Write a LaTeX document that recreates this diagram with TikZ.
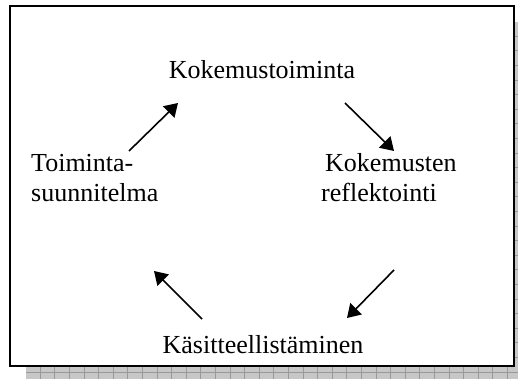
\documentclass[tikz,border=0pt]{standalone}
\usepackage{fontspec}
\setmainfont{Liberation Serif}
\usetikzlibrary{arrows.meta}
\begin{document}
\begin{tikzpicture}[x=1pt,y=1pt,
  label/.style={inner sep=0pt,font=\fontsize{26}{30}\selectfont},
  cyclearrow/.style={line width=1.6pt,-{Triangle[length=13pt,width=16pt]}},
  frame/.style={draw=black,line width=2pt,fill=white},
  shadowfill/.style={fill=black!22},
  shadowgrid/.style={draw=black!40,line width=0.6pt}]
\useasboundingbox (0,0) rectangle (518,379);
% drop shadow with a fine grid, clipped to the page
\begin{scope}
  \clip (0,0) rectangle (518,379);
  \fill[shadowfill] (26,-4) rectangle (530,357);
  \foreach \gx in {40,54.6,...,530} \draw[shadowgrid] (\gx,-4) -- (\gx,357);
  \foreach \gy in {7,21.6,...,357} \draw[shadowgrid] (26,\gy) -- (530,\gy);
\end{scope}
% frame
\draw[frame] (10,13) rectangle (514,373);
% stages of the cycle
\node[label,anchor=base] (top) at (262,300) {Kokemustoiminta};
\node[label,anchor=base west,align=left] (left) at (31,177) {Toiminta-\\suunnitelma};
\node[label,anchor=base west,align=left] (right) at (321,177) {\hspace*{4pt}Kokemusten\\reflektointi};
\node[label,anchor=base] (bottom) at (263,25) {Käsitteellistäminen};
% arrow end points
\coordinate (a1s) at (129,228); \coordinate (a1e) at (178,276);
\coordinate (a2s) at (345,276); \coordinate (a2e) at (394,228);
\coordinate (a3s) at (394,109); \coordinate (a3e) at (347,61);
\coordinate (a4s) at (202,60);  \coordinate (a4e) at (154,108);
\draw[cyclearrow] (a1s) -- (a1e);
\draw[cyclearrow] (a2s) -- (a2e);
\draw[cyclearrow] (a3s) -- (a3e);
\draw[cyclearrow] (a4s) -- (a4e);
\end{tikzpicture}
\end{document}
